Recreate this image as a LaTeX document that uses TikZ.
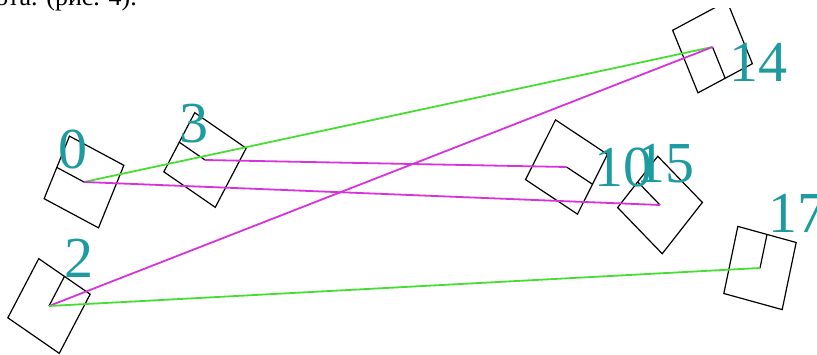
\documentclass[tikz,border=0pt]{standalone}
\usepackage{fontspec}
\setmainfont{Liberation Serif}
\usetikzlibrary{calc}
\definecolor{lblTeal}{RGB}{30,155,160}
\definecolor{lnkGreen}{RGB}{70,222,50}
\definecolor{lnkMag}{RGB}{215,50,220}
\tikzset{
  BOT/.style={draw=black, line width=1.2pt},
  LBL/.style={text=lblTeal, font=\fontsize{58}{58}\selectfont, inner sep=0pt, anchor=base},
  GR/.style={draw=lnkGreen, line width=1.8pt},
  MG/.style={draw=lnkMag, line width=1.8pt},
}
% robot box: name, x, y, heading
\newcommand{\robot}[4]{%
  \coordinate (#1) at (#2,#3);
  \begin{scope}[shift={(#2,#3)}, yscale=1.15, rotate=#4]
    \draw[BOT] (-30,-30) rectangle (30,30);
    \draw[BOT] (0,0) -- (30,0);
  \end{scope}
}

\begin{document}
\begin{tikzpicture}[x=1pt, y=1pt, yscale=-1]

\useasboundingbox (0,0) rectangle (817,355);

%% caption fragment at the top edge
\begin{scope}
  \clip (0,0) rectangle (817,355);
  \node[font=\fontsize{26}{26}\selectfont, anchor=base east, inner sep=0pt] (cap) at (137,6)
    {ота. (рис. 4).};
\end{scope}

\begin{scope}
\clip (0,9) rectangle (817,355);

%% ═══════════════════════════════════════════════
%%  robots
%% ═══════════════════════════════════════════════
\robot{r0}{84}{182}{205}
\robot{r3}{205}{160}{211}
\robot{r2}{49}{306}{-59}
\robot{r14}{712.5}{47}{65}
\robot{r10}{566.5}{167}{30}
\robot{r15}{660}{205}{222}
\robot{r17}{760}{268}{-76.5}

%% ═══════════════════════════════════════════════
%%  links
%% ═══════════════════════════════════════════════
\draw[GR] (r0) -- (r14);
\draw[MG] (r0) -- (r15);
\draw[MG] (r3) -- (r10);
\draw[MG] (r2) -- (r14);
\draw[GR] (r2) -- (r17);

%% labels
\node[LBL] (l0)  at (72.5,169) {0};
\node[LBL] (l3)  at (194,143)  {3};
\node[LBL] (l2)  at (79,278)   {2};
\node[LBL] (l14) at (758,82)   {14};
\node[LBL] (l10) at (623,187)  {10};
\node[LBL] (l15) at (665.5,183) {15};
\node[LBL] (l17) at (797,233)  {17};
\end{scope}

\end{tikzpicture}
\end{document}
